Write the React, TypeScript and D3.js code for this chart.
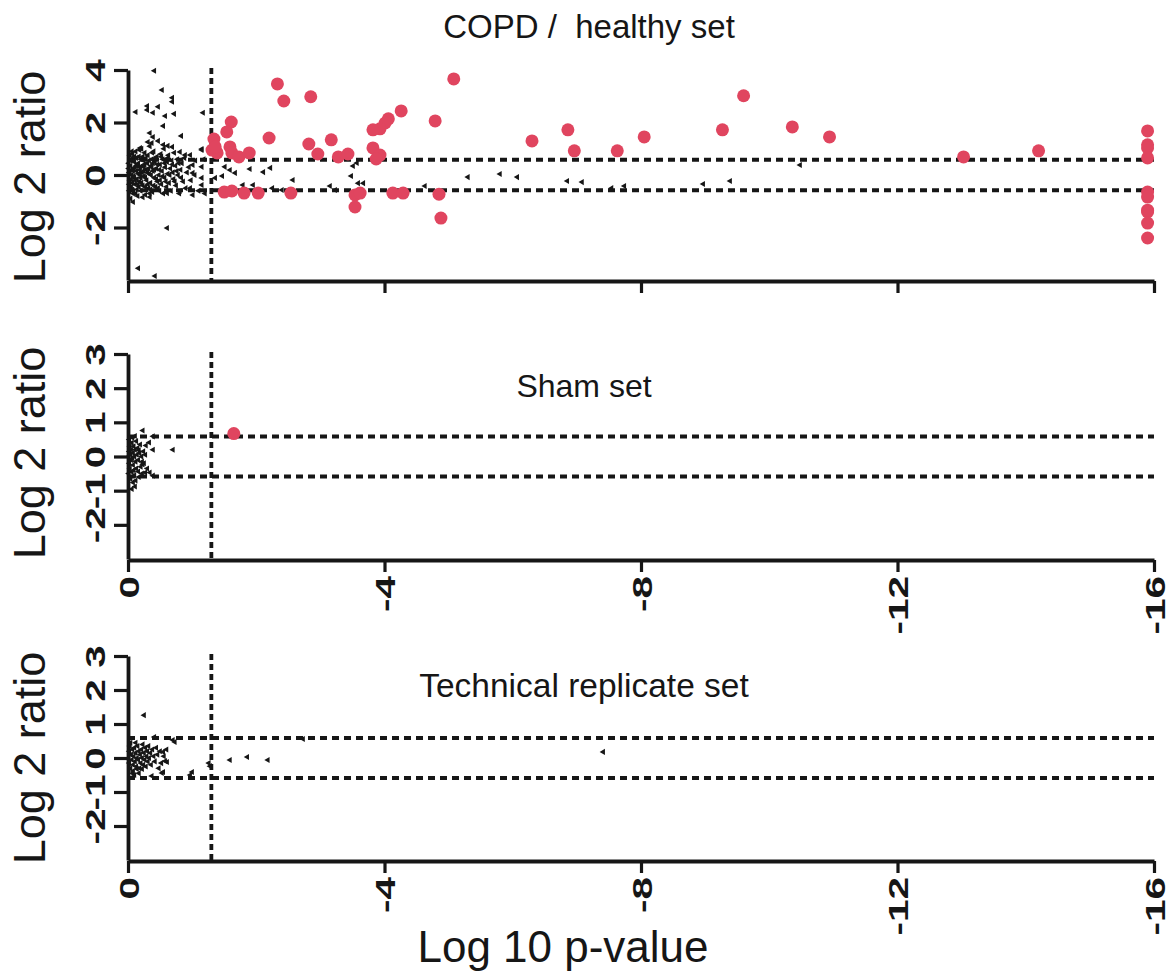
import React, { useRef, useEffect } from "react";
import * as d3 from "d3";

// x = log10 p-value, y = log2 ratio
const xTicks = [0, -4, -8, -12, -16];
const copdTicks = [4, 2, 0, -2];
const smallTicks = [-2, -1, 0, 1, 2, 3];
const pCut = -1.3;
const foldCut = 0.585;

// COPD / healthy: significant proteins (red)
const copdHits = [
  [-2.33, 3.47], [-2.43, 2.82], [-2.85, 2.98], [-5.08, 3.66], [-4.26, 2.44], [-4.79, 2.06],
  [-1.61, 2.02], [-1.54, 1.64], [-1.34, 1.37], [-2.2, 1.41], [-2.82, 1.18], [-3.17, 1.34],
  [-4.06, 2.14], [-4.01, 1.98], [-3.93, 1.76], [-3.82, 1.72], [-3.82, 1.03], [-3.93, 0.76],
  [-3.87, 0.61], [-2.96, 0.8], [-3.28, 0.69], [-3.43, 0.8], [-1.31, 0.95], [-1.39, 0.84],
  [-1.36, 1.07], [-1.59, 1.07], [-1.62, 0.84], [-1.73, 0.69], [-1.89, 0.84],
  [-1.5, -0.65], [-1.62, -0.61], [-1.81, -0.69], [-2.03, -0.69], [-2.54, -0.69],
  [-3.54, -0.76], [-3.62, -0.69], [-3.54, -1.22], [-4.13, -0.69], [-4.29, -0.69],
  [-4.85, -0.73], [-4.88, -1.64],
  [-6.3, 1.3], [-6.86, 1.72], [-6.96, 0.92], [-7.63, 0.92], [-8.05, 1.45], [-9.27, 1.72],
  [-9.6, 3.02], [-10.36, 1.83], [-10.94, 1.45], [-13.03, 0.69], [-14.2, 0.92],
  [-15.9, 1.68], [-15.9, 1.15], [-15.9, 1.03], [-15.9, 0.65], [-15.9, -0.65], [-15.9, -0.84],
  [-15.9, -1.34], [-15.9, -1.41], [-15.9, -1.83], [-15.9, -2.4],
];

// COPD / healthy: other proteins (black triangles)
const copdRest = [
  [-0.41, 3.97], [-0.53, 3.24], [-0.69, 2.94], [-0.69, 2.79], [-0.47, 2.6], [-0.3, 2.63],
  [-0.3, 2.48], [-0.39, 2.37], [-0.12, 2.4], [-0.58, 2.25], [-0.72, 2.33], [-1.17, 2.37],
  [-0.55, 1.87], [-0.83, 1.49], [-0.34, 1.6], [-0.39, 1.45], [-0.31, 1.26], [-0.37, 1.22],
  [-0.55, 1.15], [-0.62, 1.11], [-0.69, 1.07], [-0.19, 1.03], [-0.81, 0.88], [-0.89, 0.76],
  [-0.97, 0.76], [-1.15, 0.99], [-1.01, 0.38], [-1.01, 0.08], [-1.04, 0.0], [-0.97, -0.5],
  [-1.01, -0.76], [-0.61, -0.69], [-0.81, -0.61], [-0.34, -0.84], [-0.08, -1.03],
  [-0.61, -2.02], [-0.16, -3.55], [-0.42, -3.85],
  [-1.15, 0.95], [-1.15, 0.31], [-1.15, -0.11], [-1.15, -0.38], [-1.36, -0.11], [-1.47, -0.04],
  [-1.51, 0.31], [-1.59, 0.19], [-1.67, 0.08], [-1.9, 0.23], [-2.11, 0.11], [-2.22, 0.27],
  [-1.79, -0.38], [-1.95, -0.38], [-2.25, -0.5], [-2.4, -0.57], [-2.57, -0.19], [-3.15, -0.42],
  [-3.23, -0.57], [-3.48, -0.04], [-3.57, 0.46], [-3.51, 0.34], [-3.59, -0.31], [-3.67, -0.31],
  [-4.63, -0.42], [-5.3, -0.08], [-5.8, 0.04], [-6.07, -0.08], [-6.85, -0.23], [-7.08, -0.27],
  [-7.54, -0.5], [-7.74, -0.42], [-8.97, -0.34], [-9.39, -0.23], [-10.48, 0.38],
  [-0.02, 0.1], [-0.03, -0.2], [-0.04, 0.35], [-0.05, 0.6], [-0.05, -0.45], [-0.06, 0.0],
  [-0.07, 0.8], [-0.08, -0.7], [-0.09, 0.25], [-0.1, -0.1], [-0.1, 0.5], [-0.11, -0.35],
  [-0.12, 0.9], [-0.13, 0.15], [-0.14, -0.55], [-0.15, 0.4], [-0.15, -0.8], [-0.16, 0.05],
  [-0.17, 0.7], [-0.18, -0.25], [-0.19, 0.3], [-0.2, -0.6], [-0.21, 1.0], [-0.22, 0.1],
  [-0.23, -0.4], [-0.24, 0.55], [-0.25, -0.05], [-0.26, 0.85], [-0.27, -0.75], [-0.28, 0.2],
  [-0.29, -0.2], [-0.3, 0.45], [-0.31, 0.75], [-0.32, -0.5], [-0.33, 0.05], [-0.34, 1.1],
  [-0.35, -0.3], [-0.36, 0.35], [-0.37, 0.6], [-0.38, -0.65], [-0.39, 0.15], [-0.4, 0.9],
  [-0.41, -0.1], [-0.42, 0.5], [-0.43, -0.45], [-0.44, 0.25], [-0.45, 0.7], [-0.46, -0.25],
  [-0.47, 1.3], [-0.48, 0.0], [-0.49, -0.6], [-0.5, 0.4], [-0.51, 0.8], [-0.52, -0.35],
  [-0.53, 0.15], [-0.54, 0.6], [-0.55, -0.7], [-0.56, 1.0], [-0.57, -0.1], [-0.58, 0.3],
  [-0.6, -0.45], [-0.61, 0.5], [-0.62, 0.05], [-0.63, 0.75], [-0.64, -0.3], [-0.66, 0.25],
  [-0.67, -0.6], [-0.68, 0.55], [-0.7, 0.1], [-0.71, -0.15], [-0.72, 0.85], [-0.74, 0.35],
  [-0.75, -0.4], [-0.77, 0.6], [-0.78, 0.0], [-0.8, -0.7], [-0.82, 0.2], [-0.84, 0.45],
  [-0.86, -0.25], [-0.88, 0.65], [-0.9, -0.5], [-0.92, 0.1], [-0.95, 0.3], [-0.98, -0.2],
  [-1.05, 0.55], [-1.1, -0.6], [-1.18, 0.6], [-1.2, -0.7],
  [-0.01, 0.45], [-0.02, -0.6], [-0.03, 0.75], [-0.04, -0.9], [-0.06, 0.2], [-0.07, -0.3],
  [-0.08, 0.55], [-0.09, -0.05], [-0.11, 0.3], [-0.12, -0.7], [-0.13, 0.65], [-0.14, -0.15],
  [-0.16, 0.45], [-0.17, -0.45], [-0.18, 0.95], [-0.19, 0.0], [-0.2, 0.6], [-0.21, -0.3],
  [-0.22, 0.35], [-0.23, -0.85], [-0.24, 0.15], [-0.26, 0.4], [-0.27, -0.1], [-0.28, 0.65],
  [-0.29, -0.55], [-0.3, 0.1], [-0.31, -0.35], [-0.33, 0.55], [-0.34, -0.7], [-0.36, 0.0],
  [-0.37, 0.3], [-0.38, 0.85], [-0.4, -0.4], [-0.41, 0.2], [-0.43, 0.65], [-0.44, -0.15],
  [-0.46, 0.4], [-0.47, -0.5], [-0.49, 0.2], [-0.5, -0.2], [-0.52, 0.7], [-0.54, -0.05],
  [-0.57, 0.45], [-0.59, -0.25], [-0.62, 0.65], [-0.65, 0.0], [-0.69, 0.4], [-0.73, -0.25],
  [-0.76, 0.15], [-0.79, 0.45], [-0.83, -0.1],
  [-0.01, 0.25], [-0.02, -0.35], [-0.03, 0.05], [-0.04, 0.55], [-0.05, -0.15], [-0.06, 0.9],
  [-0.07, -0.55], [-0.08, 0.15], [-0.1, 0.7], [-0.11, -0.2], [-0.13, 0.35], [-0.15, -0.35],
  [-0.18, 0.2], [-0.2, -0.1], [-0.23, 0.7], [-0.25, 0.3], [-0.27, -0.45], [-0.32, 0.25],
  [-0.35, -0.55], [-0.39, 0.45],
];

const shamHits = [[-1.65, 0.67]];

const shamRest = [
  [-0.23, 0.76], [-0.39, 0.59], [-0.33, 0.41], [-0.28, 0.32], [-0.39, 0.2], [-0.7, 0.2],
  [-0.17, 0.18], [-0.22, -0.15], [-0.23, -0.23], [-0.16, -0.44], [-0.27, -0.47], [-0.34, -0.47],
  [-0.39, -0.56], [-0.08, -0.76], [-0.11, -0.88], [-0.06, -0.95],
  [-0.01, 0.0], [-0.02, 0.15], [-0.02, -0.2], [-0.03, 0.3], [-0.03, -0.35], [-0.04, 0.05],
  [-0.05, -0.1], [-0.05, 0.2], [-0.06, -0.45], [-0.06, 0.4], [-0.07, -0.05], [-0.08, 0.1],
  [-0.08, -0.25], [-0.09, 0.3], [-0.1, -0.55], [-0.1, 0.0], [-0.11, 0.2], [-0.12, -0.15],
  [-0.13, 0.45], [-0.13, -0.35], [-0.14, 0.05], [-0.15, 0.25], [-0.16, -0.1], [-0.17, -0.6],
  [-0.18, 0.1], [-0.19, 0.35], [-0.2, -0.3], [-0.21, 0.0], [-0.22, -0.5], [-0.24, 0.15],
  [-0.25, -0.2], [-0.27, 0.05], [-0.3, -0.35], [-0.01, -0.5], [-0.02, 0.5], [-0.04, -0.65],
  [-0.07, 0.55], [-0.09, -0.4], [-0.11, 0.6], [-0.12, -0.7],
];

const techHits = [];

const techRest = [
  [-0.25, 1.26], [-0.41, 0.62], [-0.7, 0.53], [-0.73, 0.47], [-1.59, -0.06], [-1.86, 0.03],
  [-2.18, -0.06], [-1.28, -0.24], [-1.26, -0.15], [-1.0, -0.41], [-0.97, -0.5], [-0.55, -0.41],
  [-0.53, -0.44], [-0.37, -0.53], [-0.08, -0.38], [-0.14, -0.32], [-0.22, -0.32], [-0.55, 0.18],
  [-0.58, -0.09], [-0.61, -0.12], [-7.41, 0.18], [-2.73, 0.56],
  [-0.01, 0.0], [-0.02, 0.2], [-0.02, -0.15], [-0.03, 0.35], [-0.04, -0.3], [-0.05, 0.1],
  [-0.06, -0.05], [-0.07, 0.25], [-0.08, -0.2], [-0.09, 0.05], [-0.1, 0.3], [-0.11, -0.1],
  [-0.12, 0.15], [-0.13, -0.25], [-0.14, 0.0], [-0.15, 0.35], [-0.16, -0.05], [-0.17, 0.2],
  [-0.18, -0.3], [-0.19, 0.1], [-0.2, -0.15], [-0.21, 0.25], [-0.22, 0.0], [-0.23, 0.4],
  [-0.24, -0.2], [-0.25, 0.15], [-0.26, -0.05], [-0.27, 0.3], [-0.28, -0.25], [-0.29, 0.05],
  [-0.3, 0.2], [-0.31, -0.1], [-0.32, 0.35], [-0.33, 0.0], [-0.35, 0.15], [-0.36, -0.2],
  [-0.38, 0.25], [-0.4, 0.05], [-0.42, -0.1], [-0.44, 0.3], [-0.46, 0.1], [-0.48, -0.3],
  [-0.5, 0.2], [-0.52, -0.15], [-0.56, 0.05], [-0.6, 0.25], [-0.04, 0.45], [-0.07, -0.45],
  [-0.12, 0.45], [-0.1, -0.5], [-0.17, -0.45],
];

const TICK_FONT = "'Liberation Sans', Arial, sans-serif";
const INK = "#161616";
const HIT = "#e0455f";

const panels = [
  { title: "COPD /  healthy set", titleSize: 33, titleX: 589, titleY: 38, top: 70, bottom: 280, dom: [-4, 4], ticks: copdTicks, labelY: 177, hits: copdHits, rest: copdRest, xLabels: false },
  { title: "Sham set", titleSize: 32, titleX: 584, titleY: 397, top: 354, bottom: 559, dom: [-3, 3], ticks: smallTicks, labelY: 453, hits: shamHits, rest: shamRest, xLabels: true },
  { title: "Technical replicate set", titleSize: 33.5, titleX: 584, titleY: 697, top: 656, bottom: 860, dom: [-3, 3], ticks: smallTicks, labelY: 758, hits: techHits, rest: techRest, xLabels: true },
];

const App = () => {
  const svgRef = useRef(null);

  useEffect(() => {
    const width = 1174;
    const height = 973;
    const svg = d3.select(svgRef.current);
    svg.attr("width", width).attr("height", height);
    svg.selectAll("*").remove();

    const x = d3.scaleLinear().domain([0, -16]).range([128, 1154]);
    const tri = d3.symbol().type(d3.symbolTriangle).size(16)();
    const fmt = (d) => String(d); // plain hyphen minus

    panels.forEach((p) => {
      const y = d3.scaleLinear().domain(p.dom).range([p.bottom, p.top]);
      const g = svg.append("g");

      // threshold lines
      g.selectAll(".hcut")
        .data([foldCut, -foldCut])
        .join("line")
        .attr("x1", x(0))
        .attr("x2", x(-16))
        .attr("y1", (d) => y(d))
        .attr("y2", (d) => y(d))
        .attr("stroke", INK)
        .attr("stroke-width", 4)
        .attr("stroke-dasharray", "7,5");

      g.append("line")
        .attr("x1", x(pCut))
        .attr("x2", x(pCut))
        .attr("y1", p.top - 2)
        .attr("y2", p.bottom)
        .attr("stroke", INK)
        .attr("stroke-width", 3.8)
        .attr("stroke-dasharray", "6,4");

      // non significant: left pointing triangles
      g.selectAll(".tri")
        .data(p.rest)
        .join("path")
        .attr("d", tri)
        .attr("transform", (d) => `translate(${x(d[0])},${y(d[1])}) rotate(-90)`)
        .attr("fill", INK);

      // significant: red dots
      g.selectAll(".hit")
        .data(p.hits)
        .join("circle")
        .attr("cx", (d) => x(d[0]))
        .attr("cy", (d) => y(d[1]))
        .attr("r", 6.5)
        .attr("fill", HIT);

      // Y axis
      const ya = g
        .append("g")
        .attr("transform", `translate(${x(0)},0)`)
        .call(d3.axisLeft(y).tickValues(p.ticks).tickSize(14).tickSizeOuter(0).tickFormat(fmt))
        .attr("font-family", TICK_FONT)
        .attr("font-size", 27)
        .attr("font-weight", "bold");
      ya.select(".domain").attr("stroke", INK).attr("stroke-width", 3.8);
      ya.selectAll(".tick line").attr("stroke", INK).attr("stroke-width", 3.2);
      ya.selectAll(".tick text")
        .attr("x", null)
        .attr("dy", null)
        .attr("fill", INK)
        .attr("text-anchor", "middle")
        .attr("transform", "translate(-23,0) rotate(-90) scale(1.5,1)");

      // X axis
      const xa = g
        .append("g")
        .attr("transform", `translate(0,${p.bottom + 1})`)
        .call(
          d3.axisBottom(x).tickValues(xTicks).tickSize(12).tickSizeOuter(0)
            .tickFormat(p.xLabels ? fmt : () => "")
        )
        .attr("font-family", TICK_FONT)
        .attr("font-size", 27)
        .attr("font-weight", "bold");
      xa.select(".domain").attr("stroke", INK).attr("stroke-width", 3.8);
      xa.selectAll(".tick line").attr("stroke", INK).attr("stroke-width", 3.2);
      xa.selectAll(".tick text")
        .attr("y", null)
        .attr("dy", null)
        .attr("fill", INK)
        .attr("text-anchor", "end")
        .attr("transform", "translate(10,16) rotate(-90) scale(1.5,1)");

      // y label
      g.append("text")
        .attr("transform", `translate(45,${p.labelY}) rotate(-90)`)
        .attr("text-anchor", "middle")
        .attr("font-family", TICK_FONT)
        .attr("font-size", 45)
        .attr("fill", INK)
        .text("Log 2 ratio");

      // panel title
      g.append("text")
        .attr("x", p.titleX)
        .attr("y", p.titleY)
        .attr("text-anchor", "middle")
        .attr("font-family", TICK_FONT)
        .attr("font-size", p.titleSize)
        .attr("fill", INK)
        .style("white-space", "pre")
        .text(p.title);
    });

    svg.append("text")
      .attr("x", 563)
      .attr("y", 962)
      .attr("text-anchor", "middle")
      .attr("font-family", TICK_FONT)
      .attr("font-size", 44)
      .attr("fill", INK)
      .text("Log 10 p-value");
  }, []);

  return (
    <div style={{ position: "absolute", left: 0, top: 0, background: "#fff" }}>
      <svg ref={svgRef} style={{ display: "block" }}></svg>
    </div>
  );
};

export default App;
